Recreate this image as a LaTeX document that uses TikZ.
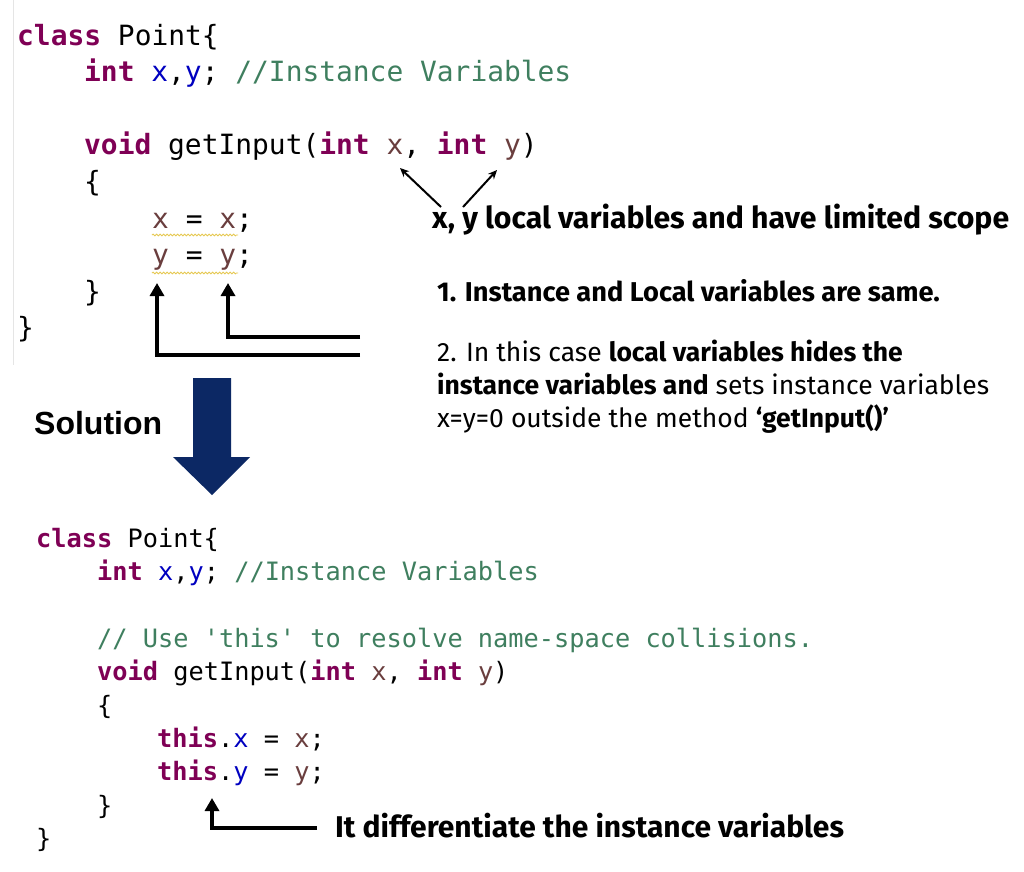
\documentclass[tikz,border=0pt]{standalone}
\usepackage{fontspec}
\usetikzlibrary{arrows.meta,decorations.pathmorphing}
\newfontfamily\codefont[Ligatures=TeXOff]{DejaVu Sans Mono}
\newfontfamily\notefont{Fira Sans}
\newfontfamily\solfont{Liberation Sans}
\definecolor{kwc}{RGB}{127,0,85}
\definecolor{fldc}{RGB}{0,0,192}
\definecolor{cmtc}{RGB}{63,127,95}
\definecolor{lvc}{RGB}{106,62,62}
\definecolor{navyc}{RGB}{12,40,100}
\definecolor{squigc}{RGB}{230,200,80}
\newcommand\kwd[1]{\textcolor{kwc}{\bfseries #1}}
\newcommand\fldv[1]{\textcolor{fldc}{#1}}
\newcommand\cmtx[1]{\textcolor{cmtc}{#1}}
\newcommand\lvar[1]{\textcolor{lvc}{#1}}
\begin{document}
\begin{tikzpicture}[x=1pt,y=-1pt,
  codeA/.style={anchor=base west, inner sep=0pt, font=\codefont\fontsize{27.9}{30}\selectfont},
  codeB/.style={anchor=base west, inner sep=0pt, font=\codefont\fontsize{25.3}{30}\selectfont},
  note/.style={anchor=base west, inner sep=0pt, font=\notefont\fontsize{26.5}{30}\selectfont},
  notebold/.style={anchor=base west, inner sep=0pt, font=\notefont\bfseries\fontsize{27.2}{30}\selectfont},
  thinarrow/.style={line width=2pt, -{Stealth[length=9pt,width=8pt]}},
  thickarrow/.style={line width=4pt, -{Triangle[length=13pt,width=14pt]}},
  squiggle/.style={draw=squigc, line width=0.8pt, decorate, decoration={snake, amplitude=0.9pt, segment length=3.5pt}}]
\useasboundingbox (0,0) rectangle (1024,871);
\fill[white] (0,0) rectangle (1024,871);
\draw[black!10, line width=1pt] (13,0) -- (13,365);

% top code
\node[codeA] (c1) at (17,45) {\kwd{class} Point\{};
\node[codeA] (c2) at (84,81.6) {\kwd{int} \fldv{x},\fldv{y}; \cmtx{//Instance Variables}};
\node[codeA] (c4) at (84,154.8) {\kwd{void} getInput(\kwd{int} \lvar{x}, \kwd{int} \lvar{y})};
\node[codeA] (c5) at (84,191.4) {\{};
\node[codeA] (c6) at (152,228) {\lvar{x} = \lvar{x};};
\node[codeA] (c7) at (152,264.6) {\lvar{y} = \lvar{y};};
\node[codeA] (c8) at (84,301) {\}};
\node[codeA] (c9) at (17,337.8) {\}};

\draw[squiggle] (152,235) -- (238,235);
\draw[squiggle] (152,273) -- (238,273);

% arrows to parameters
\coordinate (px) at (400,168);
\coordinate (py) at (497,170);
\coordinate (tx) at (441,207);
\coordinate (ty) at (463,207);
\draw[thinarrow] (tx) -- (px);
\draw[thinarrow] (ty) -- (py);

% right notes
\node[anchor=base west, inner sep=0pt, font=\notefont\bfseries\fontsize{30.2}{34}\selectfont] (t1) at (432,228) {x, y local variables and have limited scope};
\node[notebold] (t2) at (437,301) {1. Instance and Local variables are same.};
\node[note] (t3a) at (437,361) {2. In this case \textbf{local variables hides the}};
\node[note] (t3b) at (437,394) {\textbf{instance variables and} sets instance variables};
\node[note] (t3c) at (437,427) {x=y=0 outside the method \textbf{‘getInput()’}};

% thick arrows to x = x / y = y
\coordinate (e1) at (360,337);
\coordinate (e2) at (360,355);
\coordinate (ya) at (228,283);
\coordinate (yb) at (157,283);
\draw[thickarrow] (e1) -| (ya);
\draw[thickarrow] (e2) -| (yb);

% solution
\node[anchor=base west, inner sep=0pt, font=\solfont\bfseries\fontsize{32}{36}\selectfont] (sol) at (34,434) {Solution};
\fill[navyc] (193,378) -- (231,378) -- (231,457) -- (250,457) -- (212,495) -- (173,457) -- (193,457) -- cycle;

% bottom code
\node[codeB] (d1) at (36,547) {\kwd{class} Point\{};
\node[codeB] (d2) at (97,580.4) {\kwd{int} \fldv{x},\fldv{y}; \cmtx{//Instance Variables}};
\node[codeB] (d4) at (97,647.2) {\cmtx{// Use 'this' to resolve name-space collisions.}};
\node[codeB] (d5) at (97,680.6) {\kwd{void} getInput(\kwd{int} \lvar{x}, \kwd{int} \lvar{y})};
\node[codeB] (d6) at (97,714) {\{};
\node[codeB] (d7) at (157,747.4) {\kwd{this}.\fldv{x} = \lvar{x};};
\node[codeB] (d8) at (157,780.8) {\kwd{this}.\fldv{y} = \lvar{y};};
\node[codeB] (d9) at (97,814.2) {\}};
\node[codeB] (d10) at (36,847.6) {\}};

\coordinate (e3) at (317,828);
\coordinate (tt) at (212,798);
\draw[thickarrow] (e3) -| (tt);
\node[anchor=base west, inner sep=0pt, font=\notefont\bfseries\fontsize{30}{34}\selectfont] (diff) at (335,837) {It differentiate the instance variables};
\end{tikzpicture}
\end{document}
